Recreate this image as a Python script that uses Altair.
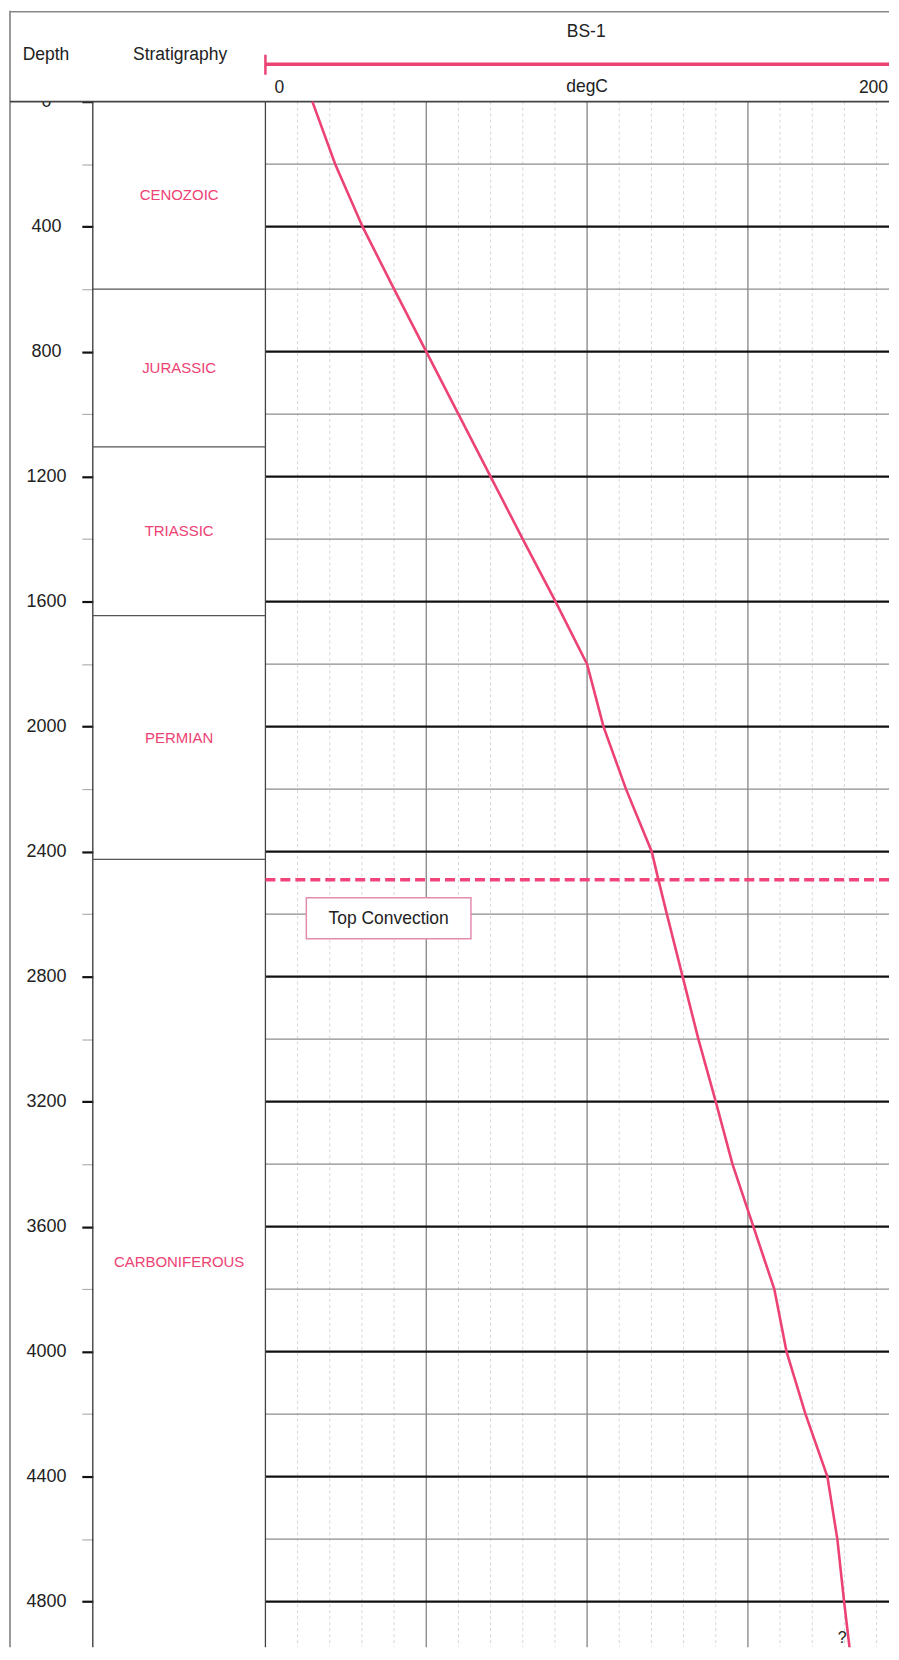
import altair as alt
import pandas as pd

# ---------------- data ----------------
depth_m = [0, 200, 400, 600, 800, 1000, 1200, 1400, 1600, 1800, 2000, 2200, 2400, 2500,
           2600, 2800, 3000, 3200, 3400, 3600, 3800, 4000, 4200, 4400, 4600, 4800, 4983]
temp_c = [14.6, 21.7, 30.2, 40.0, 50.0, 60.0, 70.0, 80.0, 90.2, 100.0, 105.1, 112.1, 120.1, 122.4,
          124.8, 129.7, 134.6, 140.0, 145.2, 151.7, 158.2, 162.0, 167.9, 174.7, 177.8, 179.9, 182.0]

strat_names = ["CENOZOIC", "JURASSIC", "TRIASSIC", "PERMIAN", "CARBONIFEROUS"]
strat_top = [0, 600, 1105, 1645, 2425]
strat_base = [600, 1105, 1645, 2425, 5000]

convection_depth = [2490]
convection_label = ["Top Convection"]

depth_ticks = list(range(0, 4801, 200))
grid_depths = list(range(200, 4801, 200))
temp_minor = [10, 20, 30, 40, 60, 70, 80, 90, 110, 120, 130, 140, 160, 170, 180, 190]
temp_major = [50, 100, 150]

track_name = ["BS-1"]
track_unit = ["degC"]
track_range = [0, 200]
col_titles = ["Depth", "Stratigraphy"]
unknown_mark = ["?"]

# ---------------- layout ----------------
W, H = 798, 1640          # plot area (track ends at right edge of page)
AXIS_W = 85               # depth column width (axis extent)
HEAD = 91                 # header height inside plot area
TRACK_X0 = 173            # stratigraphy column width
FONT = "Liberation Sans"
PINK = "#ec4274"

Y_SCALE = alt.Scale(domain=[0, 4945.7], range=[HEAD, H], nice=False, zero=False)
X_SCALE = alt.Scale(domain=track_range, range=[TRACK_X0, TRACK_X0 + 644.8], nice=False, zero=False)

is_major = "datum.value % 400 === 0"
Y_AXIS = alt.Axis(
    values=depth_ticks, format="d", title=None, grid=False, domain=False,
    labelExpr="datum.value % 400 === 0 ? datum.label : ''",
    tickSize=11, labelPadding=36, labelAlign="center",
    tickColor={"condition": {"test": is_major, "value": "#111111"}, "value": "#b0b0b0"},
    tickWidth={"condition": {"test": is_major, "value": 2.2}, "value": 1.2},
    labelFont=FONT, labelFontSize=18, labelColor="#222222",
    minExtent=AXIS_W, maxExtent=AXIS_W, zindex=0,
)


def Y(field="depth"):
    return alt.Y(f"{field}:Q", scale=Y_SCALE, axis=Y_AXIS)


def X(field="temp"):
    return alt.X(f"{field}:Q", scale=X_SCALE, axis=None)


df_curve = pd.DataFrame({"depth": depth_m, "temp": temp_c})
df_strat = pd.DataFrame({"name": strat_names, "top": strat_top, "base": strat_base})
df_conv = pd.DataFrame({"depth": convection_depth, "label": convection_label})
df_hgrid = pd.DataFrame({"depth": grid_depths})
df_tminor = pd.DataFrame({"temp": temp_minor})
df_tmajor = pd.DataFrame({"temp": temp_major})
df_zero = pd.DataFrame({"depth": [0]})
df_range = pd.DataFrame({"temp": [track_range[0]], "temp2": [track_range[1]]})

layers = []

# depth axis carrier (ticks + labels)
layers.append(alt.Chart(df_zero).mark_point(opacity=0).encode(y=Y()))

# white header background (covers top half of the "0" label like the reference)
layers.append(alt.Chart(df_zero).mark_rect(fill="white").encode(
    x=alt.value(-AXIS_W), x2=alt.value(W), y=alt.value(0), y2=alt.value(HEAD)))

# vertical grid
layers.append(alt.Chart(df_tminor).mark_rule(color="#d6d6d6", strokeWidth=1, strokeDash=[3, 3]).encode(
    x=X(), y=alt.value(HEAD), y2=alt.value(H)))
layers.append(alt.Chart(df_tmajor).mark_rule(color="#7a7a7a", strokeWidth=1.2).encode(
    x=X(), y=alt.value(HEAD), y2=alt.value(H)))

# horizontal grid
layers.append(alt.Chart(df_hgrid).transform_filter("datum.depth % 400 !== 0").mark_rule(
    color="#8c8c8c", strokeWidth=1.3).encode(x=alt.value(TRACK_X0), x2=alt.value(W), y=Y()))
layers.append(alt.Chart(df_hgrid).transform_filter("datum.depth % 400 === 0").mark_rule(
    color="#111111", strokeWidth=2.2).encode(x=alt.value(TRACK_X0), x2=alt.value(W), y=Y()))

# borders
layers.append(alt.Chart(df_zero).mark_rule(color="#777777", strokeWidth=1.5).encode(
    x=alt.value(-83), y=alt.value(0), y2=alt.value(H)))
layers.append(alt.Chart(df_zero).mark_rule(color="#333333", strokeWidth=1.3).encode(
    x=alt.value(0), y=alt.value(HEAD), y2=alt.value(H)))
layers.append(alt.Chart(df_zero).mark_rule(color="#444444", strokeWidth=1.3).encode(
    x=alt.value(TRACK_X0), y=alt.value(HEAD), y2=alt.value(H)))
layers.append(alt.Chart(df_zero).mark_rule(color="#888888", strokeWidth=1.5).encode(
    x=alt.value(-83), x2=alt.value(W), y=alt.value(1)))
layers.append(alt.Chart(df_zero).mark_rule(color="#444444", strokeWidth=1.6).encode(
    x=alt.value(-83), x2=alt.value(W), y=Y()))

# stratigraphy boundaries + labels
layers.append(alt.Chart(df_strat).transform_filter("datum.base < 4945").transform_calculate(
    depth="datum.base").mark_rule(color="#555555", strokeWidth=1.2).encode(
    x=alt.value(0), x2=alt.value(TRACK_X0), y=Y()))
layers.append(alt.Chart(df_strat).transform_calculate(
    depth="(datum.top + datum.base) / 2").mark_text(
    font=FONT, fontSize=15, color=PINK, baseline="middle", align="center").encode(
    x=alt.value(TRACK_X0 / 2), y=Y(), text="name:N"))

# top convection
layers.append(alt.Chart(df_conv).mark_rule(color="#f0447a", strokeWidth=3.5, strokeDash=[10, 5]).encode(
    x=alt.value(TRACK_X0), x2=alt.value(W), y=Y()))
layers.append(alt.Chart(df_conv).mark_rect(fill="white", stroke="#e48cae", strokeWidth=1.5).encode(
    x=alt.value(214), x2=alt.value(379), y=alt.value(889), y2=alt.value(930)))
layers.append(alt.Chart(df_conv).mark_text(font=FONT, fontSize=17.5, color="#222222",
                                           baseline="middle", align="center").encode(
    x=alt.value(296.5), y=alt.value(910), text="label:N"))

# temperature curve
layers.append(alt.Chart(df_curve).mark_line(color=PINK, strokeWidth=2.6, clip=True).encode(
    x=X(), y=Y(), order="depth:Q"))

# header
layers.append(alt.Chart(pd.DataFrame({"t": [col_titles[0]]})).mark_text(
    font=FONT, fontSize=17.5, color="#222222", baseline="middle", align="center").encode(
    x=alt.value(-47), y=alt.value(44), text="t:N"))
layers.append(alt.Chart(pd.DataFrame({"t": [col_titles[1]]})).mark_text(
    font=FONT, fontSize=17.5, color="#222222", baseline="middle", align="center").encode(
    x=alt.value(TRACK_X0 / 2 + 1), y=alt.value(44), text="t:N"))
layers.append(alt.Chart(pd.DataFrame({"t": track_name})).mark_text(
    font=FONT, fontSize=17.5, color="#222222", baseline="middle", align="center").encode(
    x=alt.value(494.5), y=alt.value(21), text="t:N"))
layers.append(alt.Chart(df_range).mark_rule(color=PINK, strokeWidth=3.5, clip=True).encode(
    x=X(), x2="temp2:Q", y=alt.value(53.5)))
layers.append(alt.Chart(df_range).mark_rule(color=PINK, strokeWidth=2.5).encode(
    x=X(), y=alt.value(44), y2=alt.value(64)))
layers.append(alt.Chart(pd.DataFrame({"temp": [track_range[0]], "t": [str(track_range[0])]})).mark_text(
    font=FONT, fontSize=17.5, color="#222222", baseline="middle", align="left", dx=9).encode(
    x=X(), y=alt.value(77), text="t:N"))
layers.append(alt.Chart(pd.DataFrame({"temp": [sum(track_range) / 2], "t": track_unit})).mark_text(
    font=FONT, fontSize=17.5, color="#222222", baseline="middle", align="center").encode(
    x=X(), y=alt.value(76), text="t:N"))
layers.append(alt.Chart(pd.DataFrame({"t": [str(track_range[1])]})).mark_text(
    font=FONT, fontSize=17.5, color="#222222", baseline="middle", align="right").encode(
    x=alt.value(W - 1), y=alt.value(77), text="t:N"))

# question mark near the bottom of the curve
layers.append(alt.Chart(pd.DataFrame({"t": unknown_mark})).mark_text(
    font=FONT, fontSize=16, color="#222222", baseline="middle", align="center").encode(
    x=alt.value(751), y=alt.value(1631), text="t:N"))

chart = alt.layer(*layers).properties(
    width=W, height=H, padding=0
).configure(font=FONT).configure_view(strokeWidth=0, stroke=None)

chart.save("out.html", embed_options={"renderer": "svg", "actions": False})
